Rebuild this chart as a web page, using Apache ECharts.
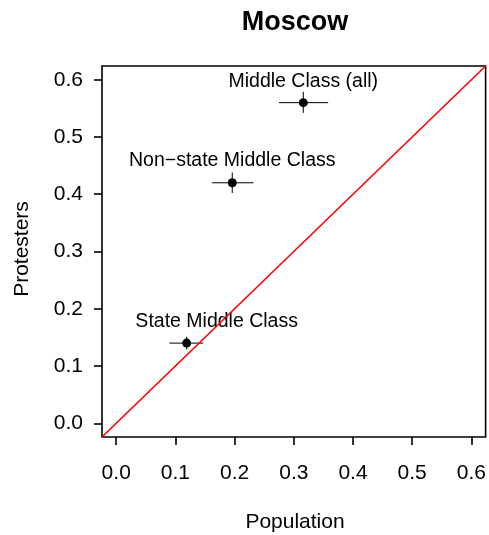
<!DOCTYPE html>
<html>
<head>
<meta charset="utf-8">
<script src="https://cdn.jsdelivr.net/npm/echarts@6/dist/echarts.min.js"></script>
<style>
  html, body { margin: 0; padding: 0; background: #fff; }
  #chart { width: 489px; height: 535px; }
</style>
</head>
<body>
<div id="chart"></div>
<script>
// ---- data ----
const groupNames = ['Middle Class (all)', 'Non\u2212state Middle Class', 'State Middle Class'];
const popMean = [0.316, 0.196, 0.119];
const popLow  = [0.275, 0.162, 0.090];
const popHigh = [0.358, 0.232, 0.147];
const protMean = [0.560, 0.420, 0.140];
const protLow  = [0.542, 0.402, 0.129];
const protHigh = [0.579, 0.438, 0.151];
const tickValues = [0, 0.1, 0.2, 0.3, 0.4, 0.5, 0.6];
const tickLabels = ['0.0', '0.1', '0.2', '0.3', '0.4', '0.5', '0.6'];
const axisLimits = [-0.024, 0.624];

// ---- presentation ----
const FONT = '"Liberation Sans", Arial, Helvetica, sans-serif';
const labelOffsets = [[0, -21], [0, -22], [30, -21]];

const rows = popMean.map((v, i) => [v, popLow[i], popHigh[i], protMean[i], protLow[i], protHigh[i]]);

const chart = echarts.init(document.getElementById('chart'), null, { renderer: 'canvas' });

function valueAxis(margin) {
  return {
    type: 'value',
    min: axisLimits[0],
    max: axisLimits[1],
    splitLine: { show: false },
    axisLine: { show: false, onZero: false },
    axisTick: { show: true, inside: false, customValues: tickValues, length: 8, lineStyle: { color: '#000', width: 1.6 } },
    axisLabel: {
      show: true,
      customValues: tickValues,
      margin: margin,
      formatter: v => tickLabels[tickValues.findIndex(t => Math.abs(t - v) < 1e-9)] ?? '',
      color: '#000',
      fontFamily: FONT,
      fontSize: 21
    }
  };
}

const option = {
  animation: false,
  backgroundColor: '#fff',
  grid: { left: 102, right: 3, top: 66, bottom: 98, show: true, borderColor: '#000', borderWidth: 1.6, backgroundColor: 'transparent' },
  xAxis: valueAxis(26),
  yAxis: valueAxis(19),
  graphic: [
    { type: 'text', x: 295, y: 23, style: { text: 'Moscow', font: 'bold 27px ' + FONT, fill: '#000', align: 'center', verticalAlign: 'middle' } },
    { type: 'text', x: 295, y: 522, style: { text: 'Population', font: '21px ' + FONT, fill: '#000', align: 'center', verticalAlign: 'middle' } },
    { type: 'text', x: 22, y: 249, rotation: Math.PI / 2, style: { text: 'Protesters', font: '21px ' + FONT, fill: '#000', align: 'center', verticalAlign: 'middle' } }
  ],
  series: [
    {
      type: 'custom',
      data: rows,
      encode: { x: [0, 1, 2], y: [3, 4, 5] },
      renderItem: function (params, api) {
        const xl = api.coord([api.value(1), api.value(3)]);
        const xh = api.coord([api.value(2), api.value(3)]);
        const yl = api.coord([api.value(0), api.value(4)]);
        const yh = api.coord([api.value(0), api.value(5)]);
        const st = { stroke: '#000', lineWidth: 1 };
        return {
          type: 'group',
          children: [
            { type: 'line', shape: { x1: xl[0], y1: xl[1], x2: xh[0], y2: xh[1] }, style: st },
            { type: 'line', shape: { x1: yl[0], y1: yl[1], x2: yh[0], y2: yh[1] }, style: st }
          ]
        };
      },
      silent: true,
      z: 2
    },
    {
      type: 'scatter',
      symbol: 'circle',
      symbolSize: 9,
      itemStyle: { color: '#000', opacity: 1 },
      data: popMean.map((v, i) => ({
        name: groupNames[i],
        value: [v, protMean[i]],
        label: { offset: labelOffsets[i] }
      })),
      label: {
        show: true,
        position: 'inside',
        formatter: p => p.name,
        color: '#000',
        opacity: 1,
        fontFamily: FONT,
        fontSize: 19.5
      },
      emphasis: { disabled: true },
      silent: true,
      z: 3
    },
    {
      type: 'line',
      data: [[axisLimits[0], axisLimits[0]], [axisLimits[1], axisLimits[1]]],
      symbol: 'none',
      lineStyle: { color: '#ff0000', width: 1.6 },
      silent: true,
      z: 4
    }
  ]
};
chart.setOption(option);
</script>
</body>
</html>
